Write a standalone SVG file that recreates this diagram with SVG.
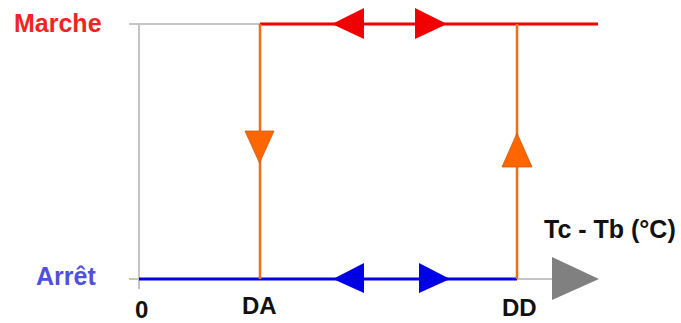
<svg xmlns="http://www.w3.org/2000/svg" width="681" height="323" viewBox="0 0 681 323">
<style>
text{font-family:"Liberation Sans",Arial,sans-serif;font-weight:bold}
.lab{font-size:24px;fill:#111}
.axis{stroke:#c4c4c4;stroke-width:2;fill:none}
.red{stroke:#f00000;stroke-width:3;fill:none}
.blue{stroke:#0000e6;stroke-width:3;fill:none}
.orange{stroke:#f26d1a;stroke-width:2.5;fill:none}
.ra{fill:#f00000}
.ba{fill:#0000e6}
.oa{fill:#ff6600;stroke:#c85a14;stroke-width:0.8}
</style>
<rect width="681" height="323" fill="#fff"/>
<g id="axes">
<path class="axis" d="M129,24 H260 M139,24 V289 M129,279 H139 M517,279 H553"/>
<polygon points="552,257 599,279 552,300" fill="#808080"/>
</g>
<g id="connectors">
<path class="red" d="M260,24 H598"/>
<polygon class="ra" points="332,24 364,8 364,39"/>
<polygon class="ra" points="415,8 447,24 415,39"/>
<path class="blue" d="M139,279 H517"/>
<polygon class="ba" points="333,279 364,263 364,293"/>
<polygon class="ba" points="419,263 450,279 419,293"/>
<path class="orange" d="M260,24 V279 M517,24 V279"/>
<polygon class="oa" points="245,131 274,131 259.5,163"/>
<polygon class="oa" points="517,133 532,167 502,167"/>
</g>
<g id="marche"><text x="14" y="32" font-size="25" fill="#f02424">Marche</text></g>
<g id="arret"><text x="36" y="285" font-size="25" fill="#5050dc">Arrêt</text></g>
<g id="zero"><text class="lab" x="135" y="318">0</text></g>
<g id="da"><text class="lab" x="242" y="314">DA</text></g>
<g id="dd"><text class="lab" x="502" y="316">DD</text></g>
<g id="xlabel"><text class="lab" x="544" y="238" style="font-size:25px">Tc - Tb (°C)</text></g>
</svg>
